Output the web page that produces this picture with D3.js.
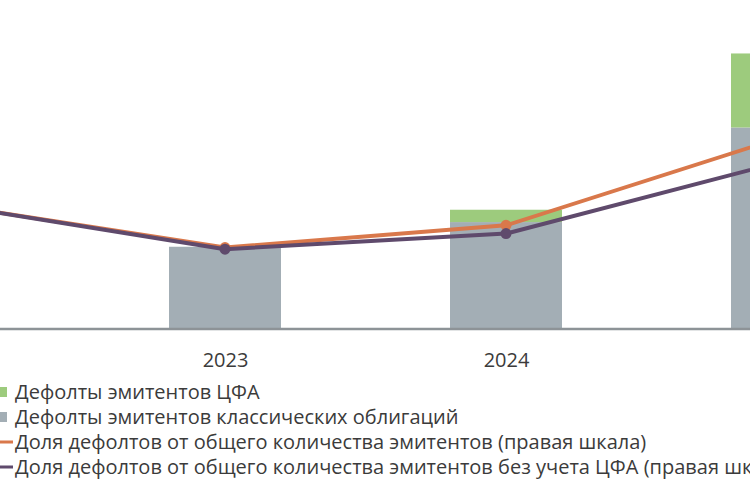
<!DOCTYPE html>
<html>
<head>
<meta charset="utf-8">
<script src="https://cdn.jsdelivr.net/npm/d3@7"></script>
<style>
  html, body { margin: 0; padding: 0; background: #fff; }
  svg { display: block; }
  text { font-family: "Open Sans", "Noto Sans", sans-serif; fill: #3b3b3b; }
</style>
</head>
<body>
<svg id="chart" width="750" height="500"></svg>
<script>
var years = ["2022", "2023", "2024", "2025"];
var yearLabels = ["2022", "2023", "2024", "2025"];
// defaults, number of issuers (left scale)
var classicDefaults = [0, 20, 26, 49];
var cfaDefaults = [0, 0, 3, 18];
// share of defaults, % (right scale)
var shareAll = [1.52, 0.99, 1.26, 2.35];
var shareNoCfa = [1.52, 0.97, 1.16, 2.05];
var legendLabels = [
  "Дефолты эмитентов ЦФА",
  "Дефолты эмитентов классических облигаций",
  "Доля дефолтов от общего количества эмитентов (правая шкала)",
  "Доля дефолтов от общего количества эмитентов без учета ЦФА (правая шкала)"
];

var colors = {
  cfa: "#9dcb7d",
  classic: "#a3aeb5",
  all: "#d9784b",
  noCfa: "#5f4a6c",
  axis: "#8d9397"
};

var svg = d3.select("#chart");
var baseY = 329;
var barWidth = 112;

var x = d3.scalePoint().domain(years).range([-56, 787]);
var yLeft = d3.scaleLinear().domain([0, 80]).range([baseY, 0]);
var yRight = d3.scaleLinear().domain([0, 4]).range([baseY, 0]);

// stacked bars
var stackData = years.map(function (y, i) {
  return { year: y, classic: classicDefaults[i], cfa: cfaDefaults[i] };
});
var series = d3.stack().keys(["classic", "cfa"])(stackData);

svg.append("g").selectAll("g")
  .data(series)
  .join("g")
  .attr("fill", function (d) { return colors[d.key]; })
  .selectAll("rect")
  .data(function (d) { return d; })
  .join("rect")
  .attr("x", function (d) { return x(d.data.year) - barWidth / 2; })
  .attr("width", barWidth)
  .attr("y", function (d) { return yLeft(d[1]); })
  .attr("height", function (d) { return yLeft(d[0]) - yLeft(d[1]); });

// x axis
var xAxis = d3.axisBottom(x).tickSize(0).tickPadding(24)
  .tickFormat(function (d, i) { return yearLabels[i]; });
var gx = svg.append("g").attr("transform", "translate(0," + baseY + ")").call(xAxis);
gx.select(".domain").remove();
gx.append("line").attr("x1", 0).attr("x2", 750).attr("y1", 0).attr("y2", 0)
  .attr("stroke", colors.axis).attr("stroke-width", 2.5);
gx.selectAll(".tick text").style("font-size", "20px").attr("fill", "#3b3b3b")
  .style("font-family", "'Open Sans', sans-serif");

// lines
var line = d3.line()
  .x(function (d, i) { return x(years[i]); })
  .y(function (d) { return yRight(d); });

[["all", shareAll], ["noCfa", shareNoCfa]].forEach(function (s) {
  var g = svg.append("g");
  g.append("path").datum(s[1]).attr("d", line)
    .attr("fill", "none").attr("stroke", colors[s[0]])
    .attr("stroke-width", 4).attr("stroke-linejoin", "round");
  g.selectAll("circle").data(s[1]).join("circle")
    .attr("cx", function (d, i) { return x(years[i]); })
    .attr("cy", function (d) { return yRight(d); })
    .attr("r", 5.5).attr("fill", colors[s[0]]);
});

// legend
var legendKeys = ["cfa", "classic", "all", "noCfa"];
var legend = svg.append("g").attr("transform", "translate(0,392)");
legendKeys.forEach(function (k, i) {
  var row = legend.append("g").attr("transform", "translate(0," + (i * 25) + ")");
  if (i < 2) {
    row.append("rect").attr("x", 0).attr("y", -5).attr("width", 7).attr("height", 10)
      .attr("fill", colors[k]);
  } else {
    row.append("rect").attr("x", 0).attr("y", -1.5).attr("width", 13).attr("height", 3)
      .attr("fill", colors[k]);
  }
  row.append("text").attr("x", 15).attr("y", 0).attr("dy", "0.35em")
    .style("font-size", "20px").text(legendLabels[i]);
});
</script>
</body>
</html>
